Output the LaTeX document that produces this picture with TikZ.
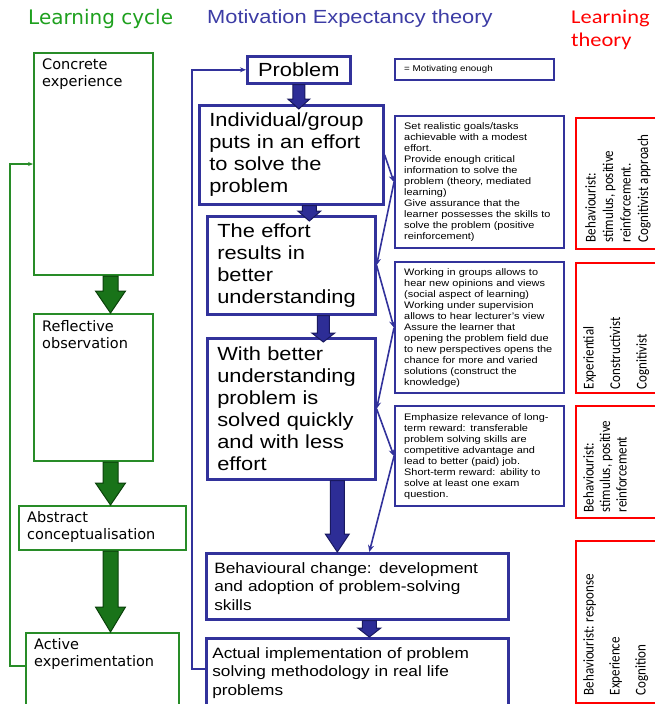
\documentclass[tikz,border=0pt]{standalone}
\usepackage{fontspec}
\setmainfont[FakeStretch=1.15]{Liberation Sans}
\newfontfamily\comicfont{DejaVu Sans}
\newfontfamily\calfont{Carlito}
\newfontfamily\calwidefont[FakeStretch=1.15]{Carlito}
\usetikzlibrary{arrows.meta,calc}

\definecolor{mblue}{RGB}{50,50,155}
\definecolor{mbluefill}{RGB}{45,45,150}
\definecolor{mbluedark}{RGB}{25,25,95}
\definecolor{mtitle}{RGB}{60,60,165}
\definecolor{ggreen}{RGB}{40,140,40}
\definecolor{gfill}{RGB}{25,115,25}
\definecolor{gdark}{RGB}{10,65,10}
\definecolor{gtitle}{RGB}{30,160,30}

% fat arrow: style, from, to, shaft half width, head half width, head length
\newcommand{\blockarrow}[6]{%
	\filldraw[#1] let \p1=#2, \p2=#3 in
		(\x1-#4,\y1) -- (\x1-#4,\y2+#6) -- (\x1-#5,\y2+#6) -- (\x1,\y2)
		-- (\x1+#5,\y2+#6) -- (\x1+#4,\y2+#6) -- (\x1+#4,\y1) -- cycle;}

\begin{document}
\begin{tikzpicture}[x=1pt,y=-1pt,
	gbox/.style={draw=ggreen,line width=2pt,anchor=north west,inner sep=0pt},
	gtext/.style={anchor=north west,align=left,inner sep=0pt,font={\comicfont\fontsize{14.5}{17}\selectfont}},
	bbig/.style={draw=mblue,line width=2.6pt,anchor=north west,align=left,inner xsep=10pt,font={\fontsize{19}{22}\selectfont}},
	bwide/.style={draw=mblue,line width=2.6pt,anchor=north west,align=left,font={\fontsize{15}{18.5}\selectfont\spaceskip=0.5em plus 0.1em\relax}},
	bnote/.style={draw=mblue,line width=2.4pt,anchor=north west,align=left,inner xsep=9pt,text width=151pt,minimum width=169pt,font={\fontsize{9.5}{11}\selectfont}},
	rbox/.style={draw=red,line width=2.4pt,anchor=north west,minimum width=90pt},
	rtext/.style={rotate=90,yscale=1.15,anchor=north west,align=left,inner sep=0pt},
	conn/.style={draw=mblue,line width=1.6pt,-{Stealth[length=7pt,width=6pt]}},
	gline/.style={draw=ggreen,line width=1.6pt,-{Stealth[length=5pt,width=4pt]}},
	bline/.style={draw=mblue,line width=1.6pt,-{Stealth[length=6pt,width=5pt]}},
	garrow/.style={fill=gfill,draw=gdark,line width=1pt},
	barrow/.style={fill=mbluefill,draw=mbluedark,line width=1pt}]

	\useasboundingbox (0,0) rectangle (655,704);

	% headings
	\node[anchor=west,text=gtitle,inner sep=0pt,font={\comicfont\fontsize{20}{24}\selectfont}] (h1) at (28,19) {Learning cycle};
	\node[anchor=west,text=mtitle,inner sep=0pt,font={\fontsize{19}{23}\selectfont}] (h2) at (207,19) {Motivation Expectancy theory};
	\node[anchor=west,text=red,align=left,inner sep=0pt,font={\calwidefont\fontsize{19.5}{23}\selectfont}] (h3) at (571,30) {Learning\\theory};

	% learning cycle
	\node[gbox,minimum width=119pt,minimum height=222pt] (ce) at (33,52) {};
	\node[gtext] (ce-t) at ([shift={(9,7)}]ce.north west) {Concrete\\experience};
	\node[gbox,minimum width=119pt,minimum height=147pt] (ro) at (33,313) {};
	\node[gtext] (ro-t) at ([shift={(9,7)}]ro.north west) {Reflective\\observation};
	\node[gbox,minimum width=167pt,minimum height=44pt] (ac) at (18,505) {};
	\node[gtext] (ac-t) at ([shift={(9,6)}]ac.north west) {Abstract\\conceptualisation};
	\node[gbox,minimum width=153pt,minimum height=80pt] (ae) at (25,632) {};
	\node[gtext] (ae-t) at ([shift={(9,6)}]ae.north west) {Active\\experimentation};

	\blockarrow{garrow}{([xshift=17pt]ce.south)}{(ro.north)}{7.5pt}{15pt}{22pt}
	\blockarrow{garrow}{([xshift=17pt]ro.south)}{(ac.north)}{7.5pt}{15pt}{22pt}
	\blockarrow{garrow}{([xshift=8pt]ac.south)}{(ae.north)}{7.5pt}{15pt}{25pt}
	\draw[gline] ([yshift=7pt]ae.west) -- ++(-15,0) |- (ce.west);

	% motivation chain
	\node[bbig,align=center,minimum width=103pt,minimum height=27pt] (pr) at (246,55) {Problem};
	\node[bbig,text width=164pt,minimum height=99pt] (ind) at (198,104) {Individual/group\\puts in an effort\\to solve the\\problem};
	\node[bbig,text width=148pt,minimum height=98pt] (eff) at (206,215) {The effort\\results in\\better\\understanding};
	\node[bbig,text width=148pt,minimum height=141pt] (wb) at (206,337) {With better\\understanding\\problem is\\solved quickly\\and with less\\effort};
	\node[bwide,inner xsep=8pt,text width=286pt,minimum height=66pt] (bc) at (205,552) {Behavioural change: development\\and adoption of problem-solving\\skills};
	\node[bwide,inner xsep=6pt,text width=290pt,minimum height=69pt] (ai) at (205,637) {Actual implementation of problem\\solving methodology in real life\\problems};

	\blockarrow{barrow}{(pr.south)}{([yshift=-5pt]ind.north)}{6pt}{11pt}{10pt}
	\blockarrow{barrow}{([xshift=18pt]ind.south)}{([yshift=-6pt]eff.north)}{7pt}{11.5pt}{10pt}
	\blockarrow{barrow}{([xshift=32pt]eff.south)}{([yshift=-5pt]wb.north)}{6pt}{11.5pt}{9pt}
	\blockarrow{barrow}{([xshift=46pt]wb.south)}{(bc.north)}{7pt}{12pt}{18pt}
	\blockarrow{barrow}{([xshift=12pt]bc.south)}{(ai.north)}{7pt}{11.5pt}{9pt}
	\draw[bline] ([yshift=4pt]ai.west) -- ++(-13,0) |- (pr.west);

	% notes
	\node[bnote,text width=141pt,minimum width=159pt,minimum height=21pt,font={\fontsize{8.5}{10}\selectfont}] (mot) at (394,58) {= Motivating enough};
	\node[bnote,minimum height=132pt] (m1) at (394,115) {Set realistic goals/tasks\\achievable with a modest\\effort.\\Provide enough critical\\information to solve the\\problem (theory, mediated\\learning)\\Give assurance that the\\learner possesses the skills to\\solve the problem (positive\\reinforcement)};
	\node[bnote,minimum height=131pt] (m2) at (394,261) {Working in groups allows to\\hear new opinions and views\\(social aspect of learning)\\Working under supervision\\allows to hear lecturer’s view\\Assure the learner that\\opening the problem field due\\to new perspectives opens the\\chance for more and varied\\solutions (construct the\\knowledge)};
	\node[bnote,minimum height=100pt] (m3) at (394,405) {Emphasize relevance of long-\\term reward: transferable\\problem solving skills are\\competitive advantage and\\lead to better (paid) job.\\Short-term reward: ability to\\solve at least one exam\\question.};

	\draw[conn] (ind.east) -- (m1.west);
	\draw[conn] (m1.west) -- (eff.east);
	\draw[conn] (eff.east) -- (m2.west);
	\draw[conn] (m2.west) -- (wb.east);
	\draw[conn] (wb.east) -- (m3.west);
	\draw[conn] (m3.west) -- ([xshift=12pt]bc.north);

	% learning theory
	\node[rbox,minimum height=131pt] (r1) at (575,117) {};
	\node[rtext,font={\calfont\fontsize{13}{15.2}\selectfont}] (r1-t) at ([shift={(10,-8)}]r1.south west) {Behaviourist:\\stimulus, positive\\reinforcement.\\Cognitivist approach};
	\node[rbox,minimum height=130pt] (r2) at (575,262) {};
	\node[rtext,font={\calfont\fontsize{13}{23}\selectfont}] (r2-t) at ([shift={(8,-5)}]r2.south west) {Experiential\\Constructivist\\Cognitivist};
	\node[rbox,minimum height=112pt] (r3) at (575,405) {};
	\node[rtext,font={\calfont\fontsize{13}{14.3}\selectfont}] (r3-t) at ([shift={(8,-7)}]r3.south west) {Behaviourist:\\stimulus, positive\\reinforcement};
	\node[rbox,minimum height=162pt] (r4) at (575,540) {};
	\node[rtext,font={\calfont\fontsize{13}{22.6}\selectfont}] (r4-t) at ([shift={(8,-9)}]r4.south west) {Behaviourist: response\\Experience\\Cognition};

\end{tikzpicture}
\end{document}
